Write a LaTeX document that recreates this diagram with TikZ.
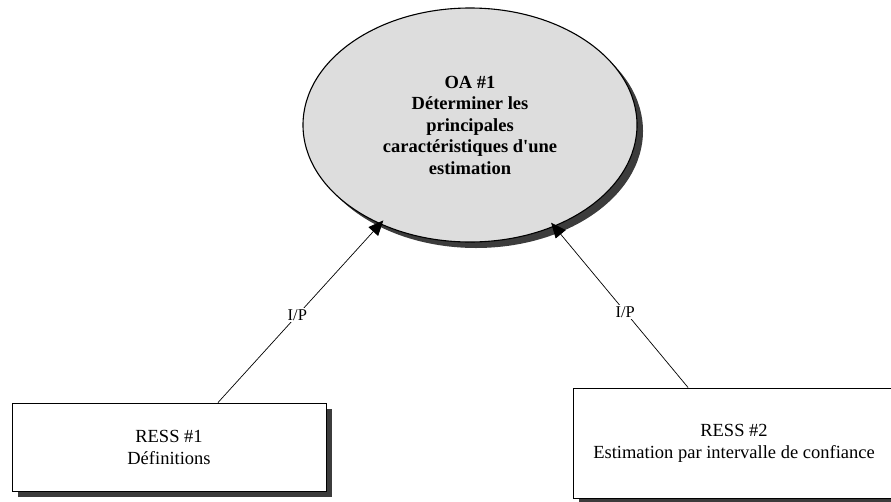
\documentclass[tikz,border=0pt]{standalone}
\usepackage{fontspec}
\setmainfont{Liberation Serif}
\usetikzlibrary{shapes.geometric,shadows,arrows.meta}

\definecolor{goalgray}{RGB}{221,221,221}
\definecolor{shadowgray}{RGB}{60,60,60}

% straight typewriter apostrophe, bypassing the TeX quote mapping
\newcommand{\straightquote}{\XeTeXglyph\XeTeXglyphindex "quotesingle"\relax}

\begin{document}
\begin{tikzpicture}[x=1pt,y=-1pt,
  darkshadow/.style={drop shadow={shadow xshift=6pt, shadow yshift=-6pt,
      fill=shadowgray, opacity=1}},
  goal/.style={ellipse, draw=black, line width=1.1pt, fill=goalgray,
      minimum width=334pt, minimum height=234pt, inner sep=0pt,
      align=center, font=\fontsize{18.5}{21.5}\selectfont\bfseries, darkshadow},
  resource/.style={rectangle, draw=black, line width=0.9pt, fill=white,
      inner sep=0pt, align=center,
      font=\fontsize{18.5}{22}\selectfont, darkshadow},
  link/.style={draw=black, line width=0.7pt,
      -{Triangle[length=15pt,width=13pt]}, shorten >=-5pt},
  iplabel/.style={fill=white, inner sep=1.5pt, font=\fontsize{16.5}{18}\selectfont}
]
  \useasboundingbox (0,0) rectangle (891,501);

  % objective
  \node[goal] (oa) at (470,125)
    {OA \#1\\D\'eterminer les\\principales\\caract\'eristiques d\straightquote une\\estimation};

  % resources
  \node[resource, minimum width=314pt, minimum height=88pt] (b1) at (169,447)
    {RESS \#1\\D\'efinitions};
  \node[resource, minimum width=322pt, minimum height=110pt] (b2) at (734,443)
    {RESS \#2\\Estimation par intervalle de confiance};

  % links
  \draw[link] ([xshift=49pt]b1.north) -- node[iplabel, pos=0.49] {I/P} (oa);
  \draw[link] (b2) -- node[iplabel, pos=0.47] {I/P} (oa);
\end{tikzpicture}
\end{document}
